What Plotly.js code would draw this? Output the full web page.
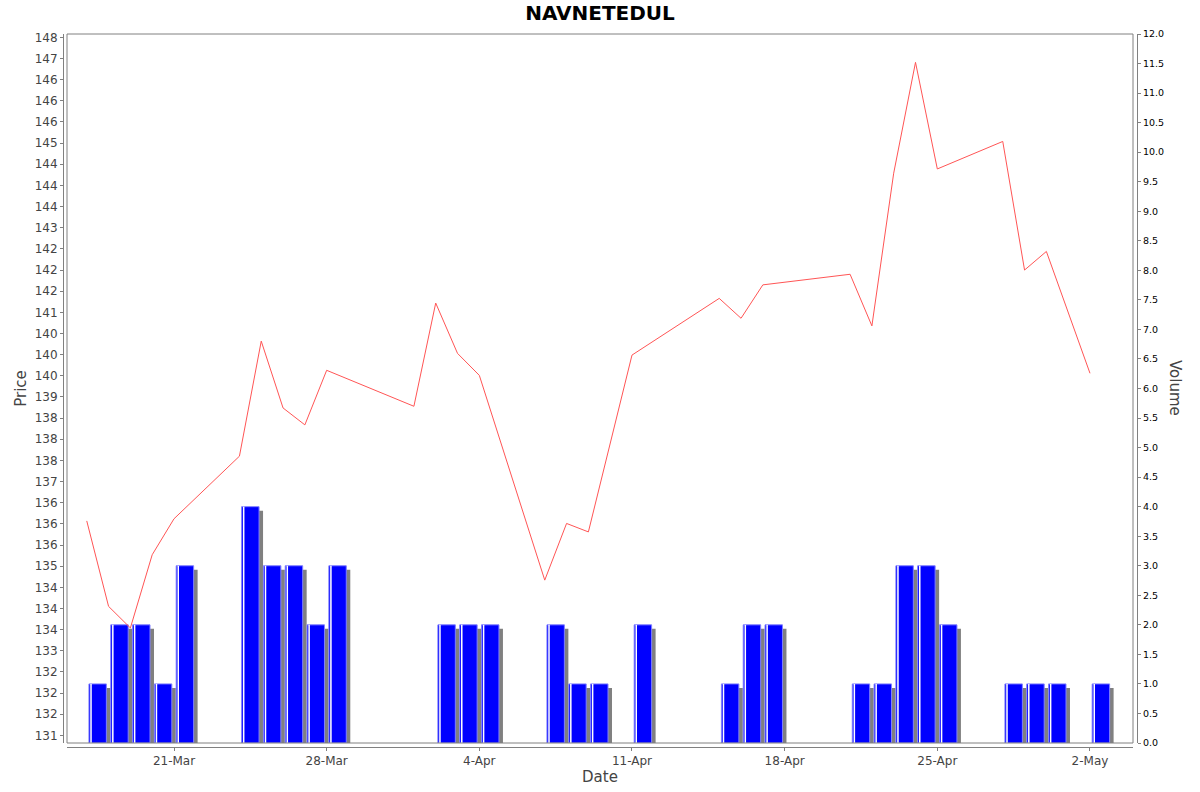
<!DOCTYPE html>
<html>
<head>
<meta charset="utf-8">
<script src="https://cdn.plot.ly/plotly-3.0.1.min.js"></script>
<style>
  html, body { margin: 0; padding: 0; background: #fff; }
  #chart { width: 1200px; height: 792px; }
</style>
</head>
<body>
<div id="chart"></div>
<script>
// trading days (NSE, 2025)
const dates = [
  '2025-03-17', '2025-03-18', '2025-03-19', '2025-03-20', '2025-03-21',
  '2025-03-24', '2025-03-25', '2025-03-26', '2025-03-27', '2025-03-28',
  '2025-04-01', '2025-04-02', '2025-04-03', '2025-04-04',
  '2025-04-07', '2025-04-08', '2025-04-09', '2025-04-11',
  '2025-04-15', '2025-04-16', '2025-04-17',
  '2025-04-21', '2025-04-22', '2025-04-23', '2025-04-24', '2025-04-25',
  '2025-04-28', '2025-04-29', '2025-04-30', '2025-05-02'
];

const prices = [
  136.07, 134.05, 133.54, 135.27, 136.12,
  137.60, 140.32, 138.74, 138.34, 139.63,
  138.78, 141.22, 140.03, 139.51,
  134.67, 136.01, 135.81, 139.99,
  141.33, 140.86, 141.65,
  141.90, 140.68, 144.29, 146.91, 144.39,
  145.04, 142.00, 142.44, 139.56
];

const volumes = [
  1, 2, 2, 1, 3,
  4, 3, 3, 2, 3,
  0, 2, 2, 2,
  2, 1, 1, 2,
  1, 2, 2,
  1, 1, 3, 3, 2,
  1, 1, 1, 1
];

const dateTicks = ['2025-03-21', '2025-03-28', '2025-04-04', '2025-04-11', '2025-04-18', '2025-04-25', '2025-05-02'];
const dateTickText = ['21-Mar', '28-Mar', '4-Apr', '11-Apr', '18-Apr', '25-Apr', '2-May'];

const priceTicks = [
  131, 131.5, 132, 132.5, 133, 133.5, 134, 134.5, 135, 135.5, 136, 136.5,
  137, 137.5, 138, 138.5, 139, 139.5, 140, 140.5, 141, 141.5, 142, 142.5,
  143, 143.5, 144, 144.5, 145, 145.5, 146, 146.5, 147, 147.5
];
const priceTickText = [
  '131', '132', '132', '132', '133', '134', '134', '134', '135', '136', '136', '136',
  '137', '138', '138', '138', '139', '140', '140', '140', '141', '142', '142', '142',
  '143', '144', '144', '144', '145', '146', '146', '146', '147', '148'
];

const DAY = 86400000;
const FONT = 'DejaVu Sans, sans-serif';
const GREY = '#808080';

// plot box sits 4px inside the axis lines
const plotW = 1200 - 63 - 63;
const plotH = 792 - 34 - 45;
const gapX = 4 / plotW;
const gapY = 4 / plotH;

// days with no volume get no bar at all
const barVols = volumes.map(v => (v > 0 ? v : null));

let shadow = {
  x: dates,
  y: barVols.map(v => (v === null ? null : v - 0.068)),
  type: 'bar',
  yaxis: 'y',
  offset: 0.1 * DAY + 0.183 * DAY,
  width: 0.8 * DAY,
  marker: { color: GREY, line: { width: 0 } },
  hoverinfo: 'skip'
};

let bars = {
  x: dates,
  y: barVols,
  type: 'bar',
  yaxis: 'y',
  offset: 0.1 * DAY,
  width: 0.8 * DAY,
  marker: { color: '#0000ff', line: { color: '#8080ff', width: 1 } },
  name: 'Volume'
};

let shine = {
  x: dates,
  y: barVols,
  type: 'bar',
  yaxis: 'y',
  offset: 0.16 * DAY,
  width: 0.07 * DAY,
  marker: { color: '#ffffff', line: { width: 0 } },
  hoverinfo: 'skip'
};

let priceLine = {
  x: dates,
  y: prices,
  type: 'scatter',
  mode: 'lines',
  yaxis: 'y2',
  line: { color: '#ff5555', width: 1 },
  name: 'Price'
};

let layout = {
  width: 1200,
  height: 792,
  margin: { l: 63, r: 63, t: 34, b: 45 },
  paper_bgcolor: '#ffffff',
  plot_bgcolor: '#ffffff',
  showlegend: false,
  barmode: 'overlay',
  font: { family: FONT, color: '#444444' },
  title: {
    text: '<b>NAVNETEDUL</b>',
    font: { family: FONT, size: 20, color: '#000000' },
    x: 0.5, xref: 'paper', xanchor: 'center',
    y: 1 - 13 / 792, yref: 'container', yanchor: 'middle'
  },
  xaxis: {
    type: 'date',
    domain: [gapX, 1 - gapX],
    anchor: 'free',
    position: 0,
    range: ['2025-03-16 02:15', '2025-05-03 23:20'],
    tickvals: dateTicks,
    ticktext: dateTickText,
    ticks: 'outside',
    ticklen: 3,
    tickcolor: GREY,
    tickfont: { family: FONT, size: 12, color: '#444444' },
    showline: true,
    linecolor: GREY,
    linewidth: 1,
    showgrid: false,
    zeroline: false,
    title: { text: 'Date', font: { family: FONT, size: 15, color: '#444444' }, standoff: 4 }
  },
  yaxis: {
    domain: [gapY, 1],
    side: 'right',
    anchor: 'free',
    position: 1,
    range: [0, 12],
    tickmode: 'linear',
    tick0: 0,
    dtick: 0.5,
    tickformat: '.1f',
    ticks: 'outside',
    ticklen: 3,
    tickcolor: GREY,
    tickfont: { family: FONT, size: 9.5, color: '#000000' },
    showline: true,
    linecolor: GREY,
    linewidth: 1,
    showgrid: false,
    zeroline: false
  },
  yaxis2: {
    overlaying: 'y',
    side: 'left',
    anchor: 'free',
    position: 0,
    range: [130.82, 147.58],
    tickvals: priceTicks,
    ticktext: priceTickText,
    ticks: 'outside',
    ticklen: 3,
    tickcolor: GREY,
    tickfont: { family: FONT, size: 12, color: '#444444' },
    showline: true,
    linecolor: GREY,
    linewidth: 1,
    showgrid: false,
    zeroline: false,
    title: { text: 'Price', font: { family: FONT, size: 15, color: '#444444' }, standoff: 3 }
  },
  shapes: [{
    type: 'rect',
    xref: 'paper', yref: 'paper',
    x0: gapX, x1: 1 - gapX, y0: gapY, y1: 1,
    line: { color: GREY, width: 1 },
    fillcolor: 'rgba(0,0,0,0)',
    layer: 'above'
  }],
  annotations: [{
    text: 'Volume',
    textangle: 90,
    xref: 'paper', yref: 'paper',
    x: (1175 - 63) / plotW, y: (747 - 388) / plotH,
    xanchor: 'center', yanchor: 'middle',
    showarrow: false,
    font: { family: FONT, size: 15, color: '#444444' }
  }]
};

Plotly.newPlot('chart', [shadow, bars, shine, priceLine], layout, { displayModeBar: false, staticPlot: true });
</script>
</body>
</html>
